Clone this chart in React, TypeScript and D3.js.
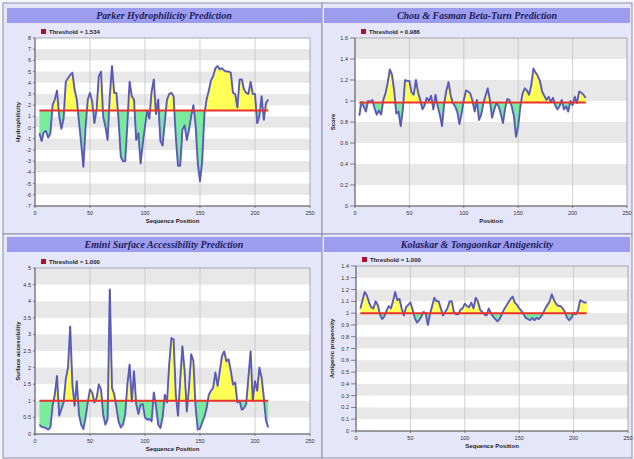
import * as d3 from 'd3'

const WIDTH = 634
const HEIGHT = 459

// scores are sampled every 2 residues, starting at residue 4
const startPos = 4
const posStep = 2
const xTicks = [0, 50, 100, 150, 200, 250]

const parkerScores = [
  -0.5, -1.2, -0.4, -0.3, -0.9, -0.5, 2.0, 2.5, 3.3, 1.0,
  -0.1, 0.8, 4.1, 4.4, 4.7, 4.9, 3.4, 2.5, 0.5, -1.4,
  -3.5, 0.1, 2.5, 3.1, 2.3, 0.4, 1.6, 4.6, 5.0, 1.0,
  0.1, -1.1, 2.8, 5.5, 3.1, 3.1, 0.7, -2.6, -3.0, -3.0,
  0.4, 4.1, 2.8, 2.5, -1.1, -0.5, -3.2, -1.4, 0.1, 1.5,
  0.8, 3.2, 4.3, 1.2, 2.5, -1.2, -1.6, 0.5, 2.5, 3.0,
  3.1, 2.8, -0.8, -3.4, -3.4, -0.2, 0.2, -1.1, -0.2, 1.0,
  2.0, 0.2, -3.2, -4.8, -3.0, 1.2, 2.5, 3.3, 4.2, 4.6,
  5.3, 5.5, 5.2, 5.3, 5.1, 5.0, 5.0, 4.9, 3.1, 3.0,
  1.8, 4.3, 4.3, 3.4, 3.1, 3.0, 4.1, 3.0, 3.0, 0.4,
  1.0, 2.8, 0.7, 2.2, 2.5,
]

const chouFasmanScores = [
  0.86, 0.99, 0.95, 0.90, 1.00, 0.99, 1.01, 0.93, 0.87, 0.91,
  0.87, 1.01, 1.07, 1.17, 1.30, 1.25, 1.10, 0.88, 0.90, 0.76,
  0.92, 1.20, 1.19, 1.19, 1.08, 1.06, 1.20, 1.08, 1.01, 0.92,
  0.96, 1.03, 1.00, 1.05, 0.92, 1.06, 0.95, 0.87, 0.76, 0.98,
  1.10, 1.18, 1.05, 0.98, 0.95, 0.90, 0.78, 0.88, 1.01, 1.10,
  1.09, 1.07, 1.00, 0.90, 1.01, 0.82, 0.87, 0.98, 1.05, 1.12,
  1.01, 0.84, 0.92, 0.98, 0.95, 0.88, 0.79, 0.93, 1.02, 1.01,
  0.95, 0.86, 0.66, 0.76, 0.95, 1.07, 1.12, 1.10, 1.06, 1.15,
  1.31, 1.27, 1.24, 1.19, 1.09, 1.05, 1.01, 1.04, 0.99, 1.03,
  0.96, 0.92, 0.95, 1.01, 0.92, 0.95, 0.90, 1.00, 0.96, 1.04,
  0.98, 1.09, 1.08, 1.06, 1.03,
]

const eminiScores = [
  0.28, 0.22, 0.20, 0.18, 0.13, 0.20, 0.85, 1.18, 1.75, 0.55,
  0.75, 0.95, 1.65, 2.00, 3.24, 1.49, 0.85, 1.59, 0.58, 0.28,
  0.15, 0.50, 0.95, 1.34, 1.25, 0.95, 1.08, 1.49, 1.35, 0.58,
  0.28, 0.45, 4.35, 1.39, 1.20, 0.80, 0.38, 0.20, 0.28, 0.60,
  1.50, 2.09, 0.98, 1.89, 0.90, 0.60, 0.88, 0.90, 0.50, 0.43,
  0.45, 0.38, 1.25, 0.85, 0.28, 0.18, 0.50, 1.18, 0.95, 2.10,
  2.89, 2.85, 1.18, 0.55, 1.60, 2.64, 1.90, 0.68, 1.40, 2.40,
  2.20, 0.80, 0.13, 0.16, 0.35, 0.52, 0.78, 1.18, 1.30, 1.40,
  1.85, 1.45, 1.89, 2.35, 2.49, 2.19, 2.25, 1.90, 1.49, 1.55,
  0.95, 1.00, 0.73, 0.78, 0.90, 1.69, 2.49, 1.00, 1.59, 1.30,
  2.00, 1.70, 1.10, 0.40, 0.20,
]

const kolaskarScores = [
  1.04, 1.11, 1.18, 1.15, 1.09, 1.05, 1.04, 1.10, 1.07, 0.99,
  0.95, 0.97, 1.02, 1.06, 1.04, 1.10, 1.18, 1.11, 1.12, 1.04,
  0.98, 1.05, 1.07, 1.09, 1.03, 0.96, 0.92, 0.94, 0.97, 1.01,
  1.00, 0.90, 0.99, 1.06, 1.13, 1.10, 1.10, 1.04, 0.98, 1.01,
  1.04, 1.10, 1.10, 1.01, 0.99, 0.99, 1.03, 1.04, 1.08, 1.06,
  1.05, 1.09, 1.04, 1.13, 1.10, 1.03, 1.01, 0.99, 0.98, 1.04,
  1.00, 0.97, 0.95, 0.93, 0.95, 0.99, 1.03, 1.06, 1.09, 1.12,
  1.14, 1.09, 1.07, 1.04, 1.02, 0.99, 0.96, 0.95, 0.94, 0.96,
  0.94, 0.96, 0.95, 0.97, 1.00, 1.04, 1.07, 1.10, 1.16, 1.11,
  1.08, 1.06, 1.06, 1.04, 1.01, 0.96, 0.94, 0.96, 1.00, 0.99,
  1.02, 1.11, 1.10, 1.09, 1.09,
]

const parkerTicks = [-7, -6, -5, -4, -3, -2, -1, 0, 1, 2, 3, 4, 5, 6, 7, 8]
const chouFasmanTicks = [0, 0.2, 0.4, 0.6, 0.8, 1, 1.2, 1.4, 1.6]
const eminiTicks = [0, 0.5, 1, 1.5, 2, 2.5, 3, 3.5, 4, 4.5, 5]
const kolaskarTicks = [0, 0.1, 0.2, 0.3, 0.4, 0.5, 0.6, 0.7, 0.8, 0.9, 1, 1.1, 1.2, 1.3, 1.4]

const parkerThreshold = 1.534
const chouFasmanThreshold = 0.986
const eminiThreshold = 1.0
const kolaskarThreshold = 1.0

type PanelCfg = {
  id: string
  title: string
  yLabel: string
  xLabel: string
  scores: number[]
  ticks: number[]
  threshold: number
  labelGap: number
  titleGap: number
  box: { x: number; y: number; w: number; h: number }
  plot: { x0: number; x1: number; y0: number; y1: number }
}

const panels: PanelCfg[] = [
  {
    id: 'parker', title: 'Parker Hydrophilicity Prediction', yLabel: 'Hydrophilicity', xLabel: 'Sequence Position',
    scores: parkerScores, ticks: parkerTicks, threshold: parkerThreshold, labelGap: 4, titleGap: 15,
    box: { x: 7, y: 8, w: 314, h: 224 }, plot: { x0: 35, x1: 310, y0: 38, y1: 206 },
  },
  {
    id: 'chou', title: 'Chou & Fasman Beta-Turn Prediction', yLabel: 'Score', xLabel: 'Position',
    scores: chouFasmanScores, ticks: chouFasmanTicks, threshold: chouFasmanThreshold, labelGap: 7, titleGap: 20,
    box: { x: 324, y: 8, w: 306, h: 224 }, plot: { x0: 355, x1: 627, y0: 38, y1: 206 },
  },
  {
    id: 'emini', title: 'Emini Surface Accessibility Prediction', yLabel: 'Surface accessibility', xLabel: 'Sequence Position',
    scores: eminiScores, ticks: eminiTicks, threshold: eminiThreshold, labelGap: 4, titleGap: 15,
    box: { x: 7, y: 237, w: 314, h: 220 }, plot: { x0: 35, x1: 310, y0: 268, y1: 434 },
  },
  {
    id: 'kolaskar', title: 'Kolaskar & Tongaonkar Antigenicity', yLabel: 'Antigenic propensity', xLabel: 'Sequence Position',
    scores: kolaskarScores, ticks: kolaskarTicks, threshold: kolaskarThreshold, labelGap: 7, titleGap: 22,
    box: { x: 324, y: 237, w: 306, h: 220 }, plot: { x0: 356, x1: 628, y0: 266, y1: 431 },
  },
]

function Panel({ cfg }: { cfg: PanelCfg }) {
  const { plot, box, ticks } = cfg
  const x = d3.scaleLinear().domain([0, 250]).range([plot.x0, plot.x1])
  const y = d3.scaleLinear().domain([ticks[0], ticks[ticks.length - 1]]).range([plot.y1, plot.y0])
  const pts: [number, number][] = cfg.scores.map((v, i) => [startPos + i * posStep, v])
  const ty = y(cfg.threshold)

  const area = d3.area<[number, number]>().x(d => x(d[0])).y0(ty).y1(d => y(d[1]))
  const line = d3.line<[number, number]>().x(d => x(d[0])).y(d => y(d[1]))

  // gray tick bands between every other tick
  const bands = ticks.slice(0, -1).map((t, i) => ({ lo: t, hi: ticks[i + 1], on: i % 2 === 1 })).filter(b => b.on)
  const first = pts[0][0], last = pts[pts.length - 1][0]

  return (
    <g>
      <rect x={box.x} y={box.y} width={box.w} height={15} fill="#9d9df0" />
      <text x={box.x + box.w / 2} y={box.y + 11} textAnchor="middle" fontFamily="Liberation Serif, serif"
        fontStyle="italic" fontWeight="bold" fontSize={10} fill="#1c1c5c">{cfg.title}</text>

      <rect x={plot.x0 + 6} y={plot.y0 - 9} width={5} height={5} fill="#b01030" />
      <text x={plot.x0 + 14} y={plot.y0 - 4} fontFamily="Liberation Sans, sans-serif" fontWeight="bold"
        fontSize={6} fill="#222">{`Threshold = ${cfg.threshold.toFixed(3)}`}</text>

      <rect x={plot.x0} y={plot.y0} width={plot.x1 - plot.x0} height={plot.y1 - plot.y0} fill="#ffffff" />
      {bands.map((b, i) => (
        <rect key={i} x={plot.x0} y={y(b.hi)} width={plot.x1 - plot.x0} height={y(b.lo) - y(b.hi)} fill="#e8e8e8" />
      ))}
      {xTicks.slice(1, -1).map(t => (
        <line key={t} x1={x(t)} x2={x(t)} y1={plot.y0} y2={plot.y1} stroke="#c4c4c4" strokeWidth={0.8} />
      ))}

      <clipPath id={`${cfg.id}-above`}>
        <rect x={plot.x0} y={plot.y0} width={plot.x1 - plot.x0} height={ty - plot.y0} />
      </clipPath>
      <clipPath id={`${cfg.id}-below`}>
        <rect x={plot.x0} y={ty} width={plot.x1 - plot.x0} height={plot.y1 - ty} />
      </clipPath>
      <path d={area(pts) ?? ''} fill="#ffff55" clipPath={`url(#${cfg.id}-above)`} />
      <path d={area(pts) ?? ''} fill="#78ec9a" clipPath={`url(#${cfg.id}-below)`} />
      <path d={line(pts) ?? ''} fill="none" stroke="#6a6ae0" strokeWidth={2} strokeLinejoin="round" />
      <path d={line(pts) ?? ''} fill="none" stroke="#4c4c70" strokeWidth={0.6} strokeLinejoin="round" />
      <line x1={x(first)} x2={x(last)} y1={ty} y2={ty} stroke="#e8322a" strokeWidth={2} />

      <rect x={plot.x0} y={plot.y0} width={plot.x1 - plot.x0} height={plot.y1 - plot.y0} fill="none" stroke="#9a9a9a" strokeWidth={0.8} />
      <line x1={plot.x0} x2={plot.x0} y1={plot.y0} y2={plot.y1} stroke="#666" strokeWidth={1} />
      <line x1={plot.x0} x2={plot.x1} y1={plot.y1} y2={plot.y1} stroke="#666" strokeWidth={1} />

      {ticks.map(t => (
        <g key={t}>
          <line x1={plot.x0 - cfg.labelGap + 2} x2={plot.x0} y1={y(t)} y2={y(t)} stroke="#666" strokeWidth={0.8} />
          <text x={plot.x0 - cfg.labelGap} y={y(t) + 2} textAnchor="end" fontFamily="Liberation Sans, sans-serif"
            fontSize={5.5} fill="#333">{String(t)}</text>
        </g>
      ))}
      {xTicks.map(t => (
        <g key={t}>
          <line x1={x(t)} x2={x(t)} y1={plot.y1} y2={plot.y1 + 2} stroke="#666" strokeWidth={0.8} />
          <text x={x(t)} y={plot.y1 + 9} textAnchor="middle" fontFamily="Liberation Sans, sans-serif"
            fontSize={5.5} fill="#333">{String(t)}</text>
        </g>
      ))}
      <text x={(plot.x0 + plot.x1) / 2} y={plot.y1 + 17} textAnchor="middle" fontFamily="Liberation Sans, sans-serif"
        fontWeight="bold" fontSize={6} fill="#222">{cfg.xLabel}</text>
      <text transform={`translate(${plot.x0 - cfg.titleGap},${(plot.y0 + plot.y1) / 2}) rotate(-90)`} textAnchor="middle"
        fontFamily="Liberation Sans, sans-serif" fontWeight="bold" fontSize={6} fill="#222">{cfg.yLabel}</text>
    </g>
  )
}

export default function App() {
  return (
    <div style={{ position: 'absolute', left: 0, top: 0, width: WIDTH, height: HEIGHT }}>
      <svg width={WIDTH} height={HEIGHT} style={{ display: 'block' }}>
        <rect width={WIDTH} height={HEIGHT} fill="#f4f4fb" />
        <rect x={3} y={3} width={319} height={231} fill="#e6e6fa" stroke="#8e8ea6" strokeWidth={1} />
        <rect x={322} y={3} width={310} height={231} fill="#e6e6fa" stroke="#8e8ea6" strokeWidth={1} />
        <rect x={3} y={234} width={319} height={224} fill="#e6e6fa" stroke="#8e8ea6" strokeWidth={1} />
        <rect x={322} y={234} width={310} height={224} fill="#e6e6fa" stroke="#8e8ea6" strokeWidth={1} />
        {panels.map(p => <Panel key={p.id} cfg={p} />)}
      </svg>
    </div>
  )
}
